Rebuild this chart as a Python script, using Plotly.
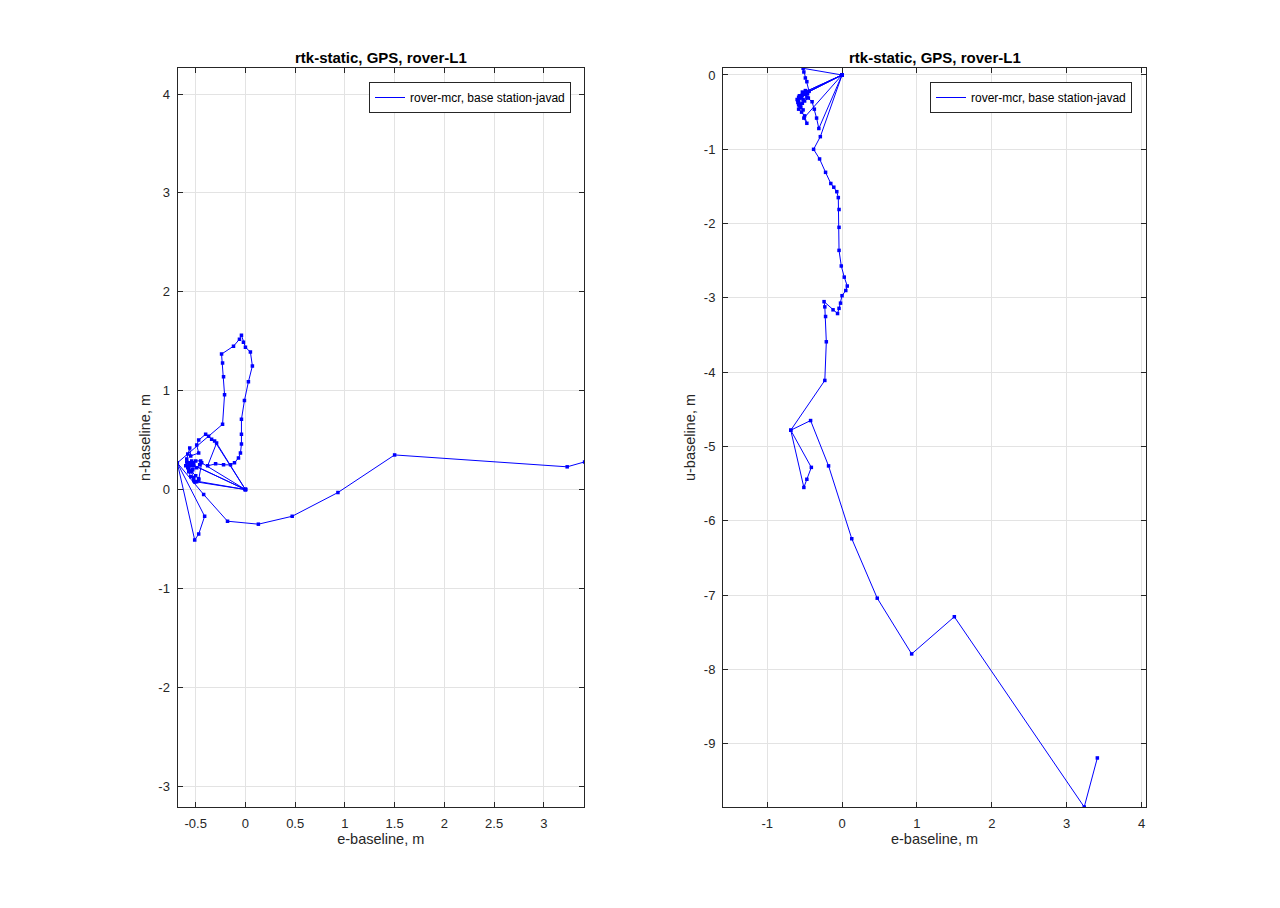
import plotly.graph_objects as go

# Linhas de base do rover em relação à estação base (m), na ordem das épocas
eBaseline = [3.41, 3.235, 1.50, 0.93, 0.47, 0.13, -0.18, -0.42, -0.685,
             -0.41, -0.47, -0.51, -0.685,
             -0.23, -0.21, -0.22, -0.23, -0.24, -0.12, -0.06, -0.04, -0.02, 0.00,
             0.05, 0.07, 0.03, -0.01, -0.04, -0.04, -0.04, -0.05, -0.07, -0.11,
             -0.15, -0.22, -0.30, -0.38,
             -0.29, 0.0, -0.31, -0.34, -0.37, -0.40,
             -0.47, -0.49, -0.47, -0.55,
             -0.56, -0.58, -0.59, -0.58, -0.56, -0.53, -0.52, -0.54, -0.57, -0.58,
             -0.57, -0.55, -0.52,
             -0.59, -0.60, -0.57, -0.53, -0.49, -0.46,
             -0.45, -0.50, -0.55, -0.58, -0.54, -0.50, -0.47, -0.51,
             0.0, -0.53, 0.0, -0.52, 0.0, -0.44, -0.47, -0.49, -0.51, -0.52, 0.0]
nBaseline = [0.28, 0.23, 0.35, -0.03, -0.27, -0.35, -0.32, -0.05, 0.27,
             -0.27, -0.45, -0.51, 0.27,
             0.66, 0.96, 1.14, 1.28, 1.37, 1.45, 1.52, 1.56, 1.49, 1.44,
             1.39, 1.25, 1.09, 0.90, 0.71, 0.56, 0.46, 0.37, 0.32, 0.27,
             0.25, 0.25, 0.26, 0.24,
             0.47, 0.0, 0.49, 0.51, 0.54, 0.56,
             0.50, 0.45, 0.37, 0.34,
             0.42, 0.36, 0.31, 0.27, 0.24, 0.24, 0.27, 0.29, 0.27, 0.23,
             0.18, 0.13, 0.12,
             0.28, 0.24, 0.21, 0.20, 0.22, 0.25,
             0.29, 0.29, 0.26, 0.22, 0.18, 0.14, 0.11, 0.08,
             0.0, 0.25, 0.0, 0.24, 0.0, 0.27, 0.10, 0.08, 0.08, 0.09, 0.0]
uBaseline = [-9.19, -9.85, -7.29, -7.79, -7.04, -6.24, -5.26, -4.65, -4.78,
             -5.28, -5.44, -5.55, -4.78,
             -4.11, -3.59, -3.25, -3.12, -3.05, -3.16, -3.21, -3.14, -3.07, -2.97,
             -2.90, -2.84, -2.72, -2.57, -2.36, -2.05, -1.81, -1.65, -1.57, -1.51,
             -1.46, -1.31, -1.13, -1.00,
             -0.83, 0.0, -0.72, -0.58, -0.46, -0.36,
             -0.30, -0.26, -0.24, -0.31,
             -0.28, -0.30, -0.34, -0.40, -0.42, -0.38, -0.33, -0.29, -0.31, -0.36,
             -0.41, -0.44, -0.47,
             -0.37, -0.33, -0.28, -0.23, -0.21, -0.25,
             -0.31, -0.35, -0.39, -0.46, -0.50, -0.55, -0.65, -0.58,
             0.0, -0.27, 0.0, -0.24, 0.0, -0.22, -0.09, -0.04, 0.04, 0.09, 0.0]

tituloGrafico = "rtk-static, GPS, rover-L1"
nomeLegenda = "rover-mcr, base station-javad"

ticksEsqX = [-0.5, 0, 0.5, 1, 1.5, 2, 2.5, 3]
ticksEsqY = [-3, -2, -1, 0, 1, 2, 3, 4]
ticksDirX = [-1, 0, 1, 2, 3, 4]
ticksDirY = [-9, -8, -7, -6, -5, -4, -3, -2, -1, 0]

largura, altura = 1280, 908
margemPagina = 8  # margem do <body> da página html
azul = "#0000ff"
fonte = "Liberation Sans, Arial, sans-serif"


def px(v, total):
    # posição em pixels da janela -> coordenada do papel
    return (v - margemPagina) / total


fig = go.Figure()

# e x n (esquerda) e e x u (direita)
for eixoX, eixoY, dadosY, leg in [("x", "y", nBaseline, "legend"),
                                  ("x2", "y2", uBaseline, "legend2")]:
    fig.add_trace(go.Scatter(x=eBaseline, y=dadosY, mode="lines", name=nomeLegenda,
                             line=dict(color=azul, width=1), xaxis=eixoX, yaxis=eixoY,
                             legend=leg))
    fig.add_trace(go.Scatter(x=eBaseline, y=dadosY, mode="markers", showlegend=False,
                             marker=dict(color=azul, size=3.5, symbol="square"),
                             xaxis=eixoX, yaxis=eixoY, hoverinfo="skip"))


def formatar(v):
    return "%g" % v


def eixo(ticks, faixa, dominio, titulo, ancora):
    return dict(range=faixa, domain=dominio, anchor=ancora,
                tickvals=ticks, ticktext=[formatar(t) for t in ticks],
                showline=True, linecolor="#262626", linewidth=1, mirror="ticks",
                ticks="inside", ticklen=5, tickcolor="#262626",
                showgrid=True, gridcolor="#e3e3e3", gridwidth=1, zeroline=False,
                tickfont=dict(family=fonte, size=13, color="#262626"),
                ticklabelstandoff=4,
                title=dict(text=titulo, font=dict(family=fonte, size=14.5, color="#262626"),
                           standoff=4))


yDom = [1 - px(807, altura), 1 - px(68, altura)]
esqDom = [px(177.5, largura), px(584, largura)]
dirDom = [px(723, largura), px(1146, largura)]

fig.update_layout(
    width=largura, height=altura,
    margin=dict(l=0, r=0, t=0, b=0),
    paper_bgcolor="white", plot_bgcolor="white",
    font=dict(family=fonte, color="#262626"),
    xaxis=eixo(ticksEsqX, [-0.683, 3.404], esqDom, "e-baseline, m", "y"),
    yaxis=eixo(ticksEsqY, [-3.21, 4.263], yDom, "n-baseline, m", "x"),
    xaxis2=eixo(ticksDirX, [-1.59, 4.06], dirDom, "e-baseline, m", "y2"),
    yaxis2=eixo(ticksDirY, [-9.85, 0.094], yDom, "u-baseline, m", "x2"),
    legend=dict(x=px(571, largura), xanchor="right", y=1 - px(82, altura), yanchor="top",
                bgcolor="white", bordercolor="#262626", borderwidth=1,
                font=dict(family=fonte, size=12, color="#000000")),
    legend2=dict(x=px(1132, largura), xanchor="right", y=1 - px(82, altura), yanchor="top",
                 bgcolor="white", bordercolor="#262626", borderwidth=1,
                 font=dict(family=fonte, size=12, color="#000000")),
    showlegend=True,
)

# títulos dos subgráficos
for dominio in (esqDom, dirDom):
    fig.add_annotation(text="<b>" + tituloGrafico + "</b>", xref="paper", yref="paper",
                       x=sum(dominio) / 2, y=1 - px(58, altura), xanchor="center",
                       yanchor="middle", showarrow=False,
                       font=dict(family=fonte, size=15, color="#000000"))

fig.write_html("out.html")
